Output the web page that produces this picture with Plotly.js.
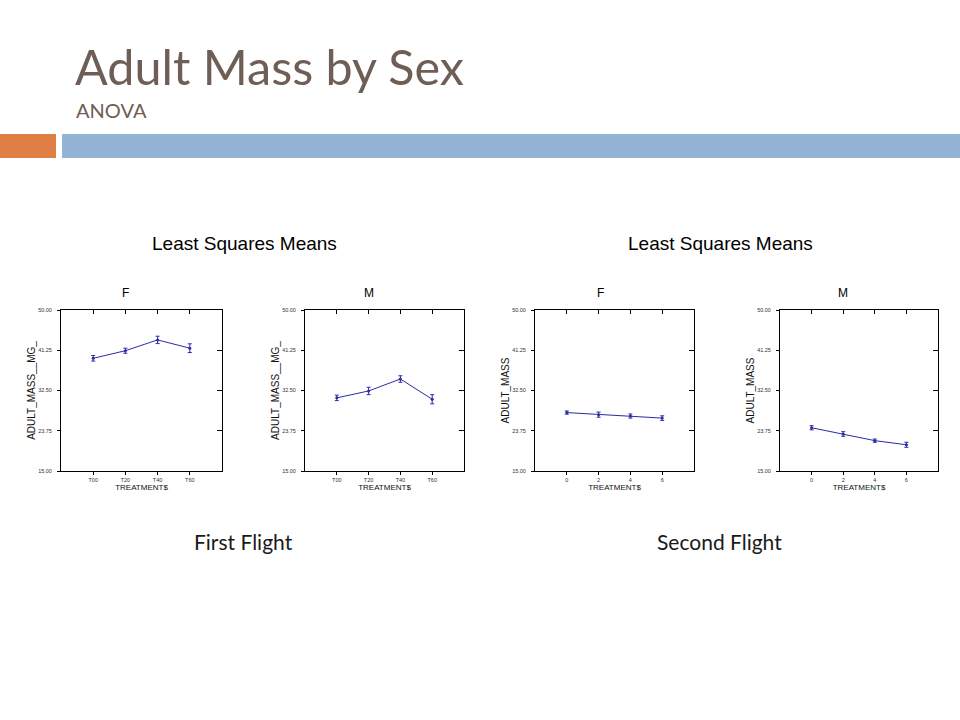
<!DOCTYPE html>
<html><head><meta charset="utf-8">
<script src="https://cdn.plot.ly/plotly-3.0.1.min.js"></script>
<style>html,body{margin:0;padding:0;background:#fff;}#chart{width:960px;height:720px;}</style>
</head><body><div id="chart"></div>
<script>
// ---- data ----
const treatmentCats = ['T00', 'T20', 'T40', 'T60'];
const treatmentNums = [0, 2, 4, 6];
const firstF = [39.5, 41.15, 43.5, 41.7];
const firstFErr = [0.6, 0.55, 0.8, 0.95];
const firstM = [30.9, 32.4, 35.0, 30.6];
const firstMErr = [0.6, 0.8, 0.7, 1.0];
const secondF = [27.7, 27.25, 26.95, 26.5];
const secondFErr = [0.35, 0.55, 0.45, 0.5];
const secondM = [24.4, 23.05, 21.6, 20.7];
const secondMErr = [0.45, 0.5, 0.35, 0.55];
const yTicks = [15, 23.75, 32.5, 41.25, 50];
const panelTitles = ['F', 'M', 'F', 'M'];
const yTitles = ['ADULT_MASS__MG_', 'ADULT_MASS__MG_', 'ADULT_MASS', 'ADULT_MASS'];
const xTitle = 'TREATMENT$';
const groupTitle = 'Least Squares Means';
const flightLabels = ['First Flight', 'Second Flight'];
const slideTitle = 'Adult Mass by Sex';
const slideSubtitle = 'ANOVA';

// ---- layout helpers ----
const W = 960, H = 720;
const px = v => v / W;
const py = v => 1 - v / H;
const panels = [
  {x0: 61, x1: 222, titleX: 125},
  {x0: 305, x1: 464, titleX: 369},
  {x0: 535, x1: 694, titleX: 600},
  {x0: 780, x1: 938, titleX: 843}
];
const plotTop = 310, plotBot = 471;
const lineColor = '#2b2ba6';
const tickFont = {family: 'Liberation Sans, Arial, sans-serif', size: 5.5, color: '#333'};

const series = [
  {x: treatmentCats, y: firstF, e: firstFErr},
  {x: treatmentCats, y: firstM, e: firstMErr},
  {x: treatmentNums, y: secondF, e: secondFErr},
  {x: treatmentNums, y: secondM, e: secondMErr}
];

const traces = [];
const layout = {
  width: W, height: H,
  margin: {l: 0, r: 0, t: 0, b: 0},
  paper_bgcolor: '#fff', plot_bgcolor: '#fff',
  showlegend: false,
  annotations: [], shapes: []
};

series.forEach((s, i) => {
  const n = i + 1, o = i + 5;
  const isCat = i < 2;
  traces.push({
    x: s.x, y: s.y,
    xaxis: 'x' + n, yaxis: 'y' + n,
    type: 'scatter', mode: 'lines+markers',
    line: {color: lineColor, width: 1},
    marker: {color: lineColor, size: 3},
    error_y: {type: 'data', array: s.e, visible: true, color: lineColor, thickness: 1, width: 2},
    hoverinfo: 'skip'
  });
  const p = panels[i];
  const xdom = [px(p.x0), px(p.x1)];
  const ydom = [py(plotBot), py(plotTop)];
  const xr = isCat ? [-1, 4] : [-2, 8];
  const xtv = isCat ? [0, 1, 2, 3] : treatmentNums;
  layout['xaxis' + n] = {
    domain: xdom, anchor: 'y' + n,
    type: isCat ? 'category' : 'linear',
    range: xr,
    tickvals: isCat ? undefined : treatmentNums,
    ticks: 'outside', ticklen: 3, tickcolor: '#000', tickwidth: 1,
    tickfont: tickFont,
    showline: true, linecolor: '#000', linewidth: 1, mirror: true,
    showgrid: false, zeroline: false, fixedrange: true,
    title: {text: xTitle, font: {family: 'Liberation Sans, Arial, sans-serif', size: 8, color: '#111'}, standoff: 1}
  };
  layout['yaxis' + n] = {
    domain: ydom, anchor: 'x' + n,
    range: [15, 50], tickvals: yTicks, tickformat: '.2f',
    ticks: 'outside', ticklen: 3, tickcolor: '#000', tickwidth: 1,
    tickfont: tickFont, ticklabelstandoff: 4,
    showline: true, linecolor: '#000', linewidth: 1, mirror: true,
    showgrid: false, zeroline: false, fixedrange: true,
    title: {text: yTitles[i], font: {family: 'Liberation Sans, Arial, sans-serif', size: 10, color: '#111'}, standoff: 0}
  };
  // overlay axes: inside ticks on top and right
  layout['xaxis' + o] = {
    overlaying: 'x' + n, anchor: 'y' + o, side: 'top',
    range: xr, tickvals: xtv, type: 'linear',
    ticks: 'inside', ticklen: 4, tickcolor: '#000', tickwidth: 1,
    showticklabels: false, showline: false, showgrid: false, zeroline: false, fixedrange: true
  };
  layout['yaxis' + o] = {
    overlaying: 'y' + n, anchor: 'x' + o, side: 'right',
    range: [15, 50], tickvals: yTicks,
    ticks: 'inside', ticklen: 5, tickcolor: '#000', tickwidth: 1,
    showticklabels: false, showline: false, showgrid: false, zeroline: false, fixedrange: true
  };
  traces.push({x: [], y: [], xaxis: 'x' + o, yaxis: 'y' + o, type: 'scatter', mode: 'markers', hoverinfo: 'skip'});
  layout.annotations.push({
    text: panelTitles[i], x: px(p.titleX), y: py(293), xref: 'paper', yref: 'paper',
    xanchor: 'center', yanchor: 'middle', showarrow: false,
    font: {family: 'Liberation Sans, Arial, sans-serif', size: 12, color: '#000'}
  });
});

// group titles and flight labels
[245, 720].forEach((cx) => {
  layout.annotations.push({
    text: groupTitle, x: px(cx), y: py(243), xref: 'paper', yref: 'paper',
    xanchor: 'center', yanchor: 'middle', showarrow: false,
    font: {family: 'Liberation Sans, Arial, sans-serif', size: 19, color: '#000'}
  });
});
[243, 719].forEach((cx, k) => {
  layout.annotations.push({
    text: flightLabels[k], x: px(cx), y: py(541), xref: 'paper', yref: 'paper',
    xanchor: 'center', yanchor: 'middle', showarrow: false,
    font: {family: 'Lato, sans-serif', size: 21, color: '#1a1a1a'}
  });
});

// slide header
layout.annotations.push({
  text: slideTitle, x: px(73), y: py(66), xref: 'paper', yref: 'paper',
  xanchor: 'left', yanchor: 'middle', showarrow: false,
  font: {family: 'Lato, sans-serif', size: 48.5, color: '#6e5e55'}
});
layout.annotations.push({
  text: slideSubtitle, x: px(74), y: py(110), xref: 'paper', yref: 'paper',
  xanchor: 'left', yanchor: 'middle', showarrow: false,
  font: {family: 'Lato, sans-serif', size: 20, color: '#6e5e55'}
});
layout.shapes.push({type: 'rect', xref: 'paper', yref: 'paper', x0: 0, x1: px(56), y0: py(158), y1: py(134), fillcolor: '#df7f45', line: {width: 0}});
layout.shapes.push({type: 'rect', xref: 'paper', yref: 'paper', x0: px(62), x1: 1, y0: py(158), y1: py(134), fillcolor: '#94b4d6', line: {width: 0}});

Plotly.newPlot('chart', traces, layout, {displayModeBar: false, staticPlot: true});
</script>
</body></html>
